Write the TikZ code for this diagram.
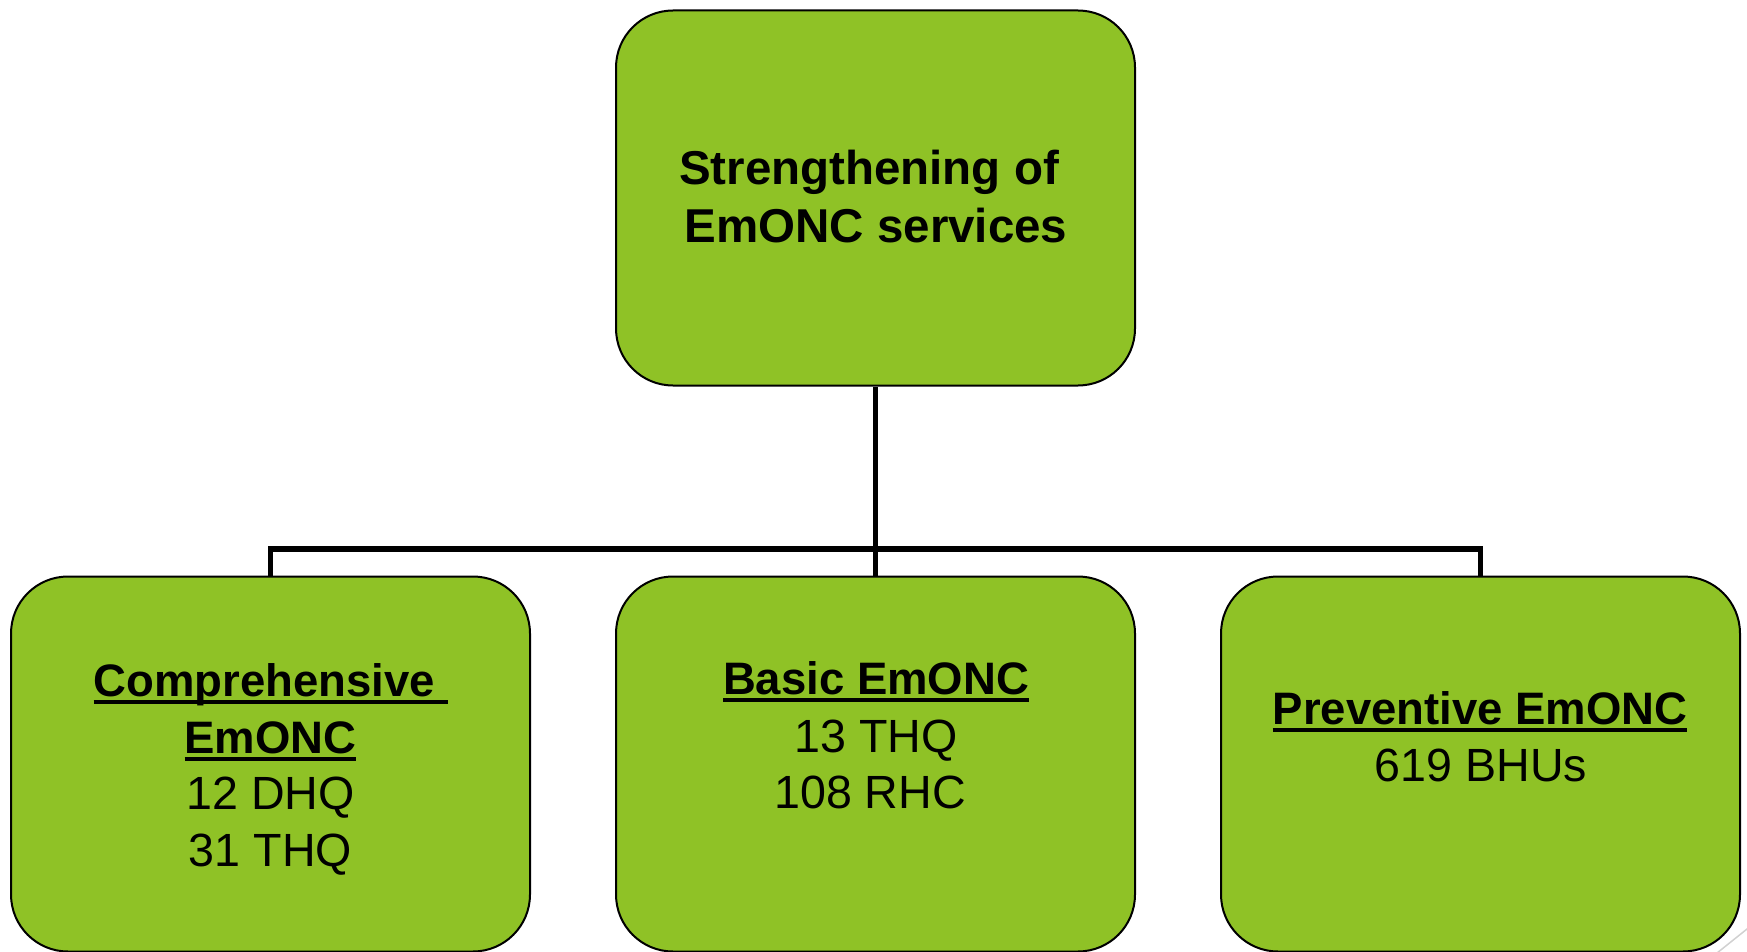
\documentclass[tikz,border=0pt]{standalone}
\usepackage{fontspec}
\setmainfont{Liberation Sans}
\definecolor{boxgreen}{RGB}{143,194,38}
\newcommand\ulined[1]{\setbox0\hbox{#1}\rlap{\rule[-7.5pt]{\wd0}{3.8pt}}\box0}
\begin{document}
\begin{tikzpicture}[x=1pt,y=-1pt]
\tikzset{
  box/.style={draw=black, line width=2pt, fill=boxgreen, rounded corners=57pt,
    minimum width=519pt, minimum height=375pt, inner sep=0pt},
  conn/.style={draw=black, line width=5.5pt},
  tb/.style={font=\fontsize{47.5}{57}\selectfont\bfseries, anchor=base, inner sep=0pt},
  lb/.style={font=\fontsize{45.5}{56}\selectfont\bfseries, anchor=base, inner sep=0pt},
  lr/.style={font=\fontsize{46.6}{56}\selectfont, anchor=base, inner sep=0pt},
}
\useasboundingbox (0,0) rectangle (1747,952);
% slide decoration
\draw[black!18, line width=1.5pt] (1712,957) -- (1752,925);
% boxes
\node[box] (top) at (875.5,198) {};
\node[box] (b1) at (270.5,764) {};
\node[box] (b2) at (875.5,764) {};
\node[box] (b3) at (1480.5,764) {};
% connectors
\coordinate (bar) at (875.5,549);
\draw[conn] (top.south) -- (b2.north);
\draw[conn] (b1.north) -- (b1.north |- bar) -- (b3.north |- bar) -- (b3.north);
% texts
\node[tb] (t1) at (869,185) {Strengthening of};
\node[tb] (t2) at (876,242) {EmONC services};
\node[lb] (l1) at (270.5,696.5) {\ulined{Comprehensive\ }};
\node[lb] (l2) at (270.5,753) {\ulined{EmONC}};
\node[lr] (l3) at (270.5,809.5) {12 DHQ};
\node[lr] (l4) at (270.5,866) {31 THQ};
\node[lb] (m1) at (876,694) {\ulined{Basic EmONC}};
\node[lr] (m2) at (876,752) {13 THQ};
\node[lr] (m3) at (870,808) {108 RHC};
\node[lb] (r1) at (1480,724) {\ulined{Preventive EmONC}};
\node[lr] (r2) at (1481,781) {619 BHUs};
\end{tikzpicture}
\end{document}
